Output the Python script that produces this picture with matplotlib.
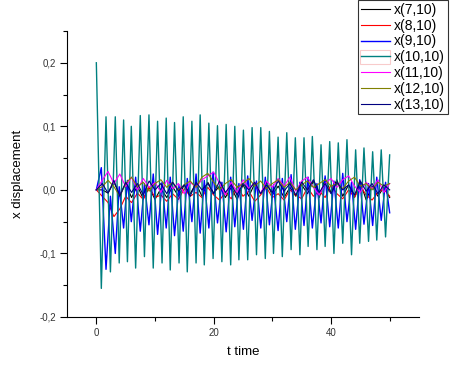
import matplotlib
matplotlib.use("Agg")
import matplotlib.pyplot as plt
from matplotlib.patches import Rectangle
from matplotlib.ticker import FuncFormatter, MultipleLocator

plt.rcParams['font.family'] = ['Liberation Sans', 'DejaVu Sans']

# x(10,10) and x(9,10): turning points
t_big = [0, 0.85, 1.65, 2.4, 3.23, 3.9, 4.65, 5.3, 5.96, 6.7,
         7.49, 8.2, 8.97, 9.7, 10.44, 11.2, 11.91, 12.6, 13.33, 14.1,
         14.81, 15.5, 16.29, 17.0, 17.7, 18.4, 19.18, 19.9, 20.65, 21.4,
         22.13, 22.9, 23.6, 24.3, 25.07, 25.8, 26.55, 27.3, 28.03, 28.8,
         29.5, 30.2, 30.98, 31.7, 32.46, 33.2, 33.92, 34.7, 35.4, 36.1,
         36.82, 37.6, 38.3, 39.0, 39.78, 40.5, 41.24, 42.0, 42.72, 43.5,
         44.2, 44.9, 45.62, 46.4, 47.1, 47.8, 48.56, 49.3, 50.0]
x10 = [0.2, -0.155, 0.115, -0.129, 0.115, -0.115, 0.11, -0.113, 0.1, -0.123,
       0.117, -0.105, 0.118, -0.123, 0.108, -0.115, 0.113, -0.126, 0.106, -0.115,
       0.115, -0.129, 0.108, -0.115, 0.118, -0.118, 0.105, -0.108, 0.101, -0.113,
       0.103, -0.118, 0.1, -0.11, 0.094, -0.11, 0.098, -0.102, 0.098, -0.108,
       0.092, -0.1, 0.083, -0.105, 0.09, -0.094, 0.082, -0.102, 0.082, -0.089,
       0.084, -0.094, 0.071, -0.089, 0.076, -0.1, 0.074, -0.084, 0.079, -0.102,
       0.063, -0.084, 0.066, -0.081, 0.06, -0.079, 0.063, -0.074, 0.055]
x9 = [0.0, 0.035, -0.125, -0.01, -0.1, 0.005, -0.06, 0.015, -0.05, 0.02,
      -0.065, 0.01, -0.055, 0.025, -0.07, 0.012, -0.06, 0.02, -0.072, 0.008,
      -0.065, 0.018, -0.05, 0.025, -0.068, 0.015, -0.06, 0.028, -0.052, 0.012,
      -0.066, 0.02, -0.058, 0.01, -0.062, 0.022, -0.048, 0.014, -0.06, 0.02,
      -0.055, 0.008, -0.064, 0.018, -0.05, 0.024, -0.062, 0.012, -0.056, 0.02,
      -0.06, 0.01, -0.052, 0.022, -0.058, 0.014, -0.06, 0.026, -0.05, 0.012,
      -0.062, 0.016, -0.054, 0.01, -0.056, 0.02, -0.048, 0.012, -0.036]

# the small ones, sampled every time unit
t_small = list(range(0, 51))
x7 = [0, 0, -0.005, 0.012, -0.008, 0.01, -0.012, 0.006, -0.014, 0.004,
      -0.015, 0.002, -0.012, 0.005, -0.01, 0.008, -0.006, 0.01, -0.01, 0.012,
      -0.005, 0.006, -0.012, 0.004, -0.015, 0.008, -0.01, 0.01, -0.006, 0.012,
      -0.008, 0.006, -0.012, 0.004, -0.01, 0.008, -0.006, 0.014, -0.012, 0.018,
      -0.004, 0.016, -0.01, 0.008, -0.012, 0.012, -0.016, 0.006, -0.01, 0.004,
      -0.012]
x8 = [0, -0.01, -0.02, -0.042, -0.03, -0.01, -0.02, -0.005, -0.015, 0.005,
      -0.012, -0.008, -0.018, -0.006, -0.015, 0.002, -0.01, -0.004, -0.012, 0.004,
      -0.008, -0.016, -0.004, -0.014, 0.006, -0.01, -0.002, -0.018, -0.008, 0.004,
      -0.012, -0.006, -0.016, 0.0, -0.008, -0.014, 0.004, -0.01, -0.002, -0.012,
      0.008, -0.006, -0.014, 0.0, -0.012, 0.006, -0.008, -0.016, -0.004, 0.002,
      -0.01]
x11 = [0, 0.015, 0.029, 0.01, 0.025, 0.005, 0.02, 0.0, 0.018, 0.004,
       0.012, -0.004, 0.015, 0.002, 0.01, -0.006, 0.012, 0.004, 0.016, 0.022,
       0.028, 0.01, -0.008, 0.012, -0.004, 0.016, 0.002, 0.012, -0.006, 0.014,
       0.004, 0.018, 0.006, 0.02, -0.002, 0.014, 0.02, 0.004, -0.008, 0.01,
       0.018, 0.004, 0.016, 0.022, 0.006, -0.004, 0.012, 0.002, 0.016, -0.004,
       0.01]
x12 = [0, 0.005, 0.015, 0.005, -0.01, 0.01, 0.02, 0.005, 0.012, -0.002,
       0.01, 0.016, 0.004, 0.012, 0.0, 0.008, 0.014, 0.004, 0.02, 0.026,
       0.012, 0.0, 0.01, 0.016, 0.004, 0.01, 0.018, 0.006, 0.014, 0.002,
       0.01, 0.016, 0.004, 0.012, 0.0, 0.008, 0.014, 0.004, 0.01, 0.016,
       0.006, 0.01, 0.002, 0.014, 0.02, 0.006, 0.01, 0.0, 0.012, 0.006,
       0.01]
x13 = [0, 0.01, -0.005, 0.015, -0.01, 0.012, -0.004, 0.01, -0.008, 0.014,
       0.0, 0.01, -0.006, 0.012, -0.002, 0.008, -0.01, 0.012, 0.0, 0.01,
       -0.006, 0.014, -0.004, 0.008, -0.008, 0.01, 0.0, 0.012, -0.006, 0.008,
       -0.004, 0.014, -0.002, 0.01, -0.008, 0.012, 0.0, 0.016, -0.004, 0.01,
       -0.006, 0.012, 0.0, 0.008, -0.008, 0.014, -0.002, 0.01, -0.006, 0.008,
       0.0]

fig = plt.figure(figsize=(4.73, 3.72), dpi=100)
ax = fig.add_axes([67 / 473, 55 / 372, 352 / 473, 286 / 372])

lw = 0.8
ax.plot(t_small, x7, color='#000000', lw=lw, label='x(7,10)')
ax.plot(t_small, x8, color='#FF0000', lw=lw, label='x(8,10)')
ax.plot(t_big, x9, color='#0000FF', lw=1.0, label='x(9,10)')
ax.plot(t_big, x10, color='#008080', lw=1.0, label='x(10,10)')
ax.plot(t_small, x11, color='#FF00FF', lw=lw, label='x(11,10)')
ax.plot(t_small, x12, color='#808000', lw=lw, label='x(12,10)')
ax.plot(t_small, x13, color='#000080', lw=lw, label='x(13,10)')

ax.set_xlim(-5, 55)
ax.set_ylim(-0.2, 0.25)
ax.spines['top'].set_visible(False)
ax.spines['right'].set_visible(False)
ax.xaxis.set_major_locator(MultipleLocator(20))
ax.xaxis.set_minor_locator(MultipleLocator(10))
ax.yaxis.set_major_locator(MultipleLocator(0.1))
ax.yaxis.set_minor_locator(MultipleLocator(0.05))
ax.yaxis.set_major_formatter(FuncFormatter(lambda v, p: f'{v:.1f}'.replace('.', ',').replace('-0,0', '0,0')))
ax.tick_params(which='major', direction='out', length=5, width=0.8, labelsize=7, pad=3)
ax.tick_params(which='minor', direction='out', length=3, width=0.8)
for lbl in ax.get_xticklabels() + ax.get_yticklabels():
    lbl.set_color('#333333')

ax.set_xlabel('t time', fontsize=9.5, labelpad=6)
ax.set_ylabel('x displacement', fontsize=9.5, labelpad=11)

leg = fig.legend(loc='upper left', bbox_to_anchor=(358 / 473, 1.0), fontsize=10,
                 frameon=True, fancybox=False, edgecolor='black',
                 handlelength=2.1, handletextpad=0.3, labelspacing=0.13,
                 borderpad=0.2, borderaxespad=0)
leg.get_frame().set_linewidth(0.8)

# red selection box round the x(10,10) entry
fig.patches.append(Rectangle((359.5 / 473, (372 - 64) / 372), 30 / 473, 14 / 372,
                             transform=fig.transFigure, fill=False,
                             edgecolor='#DD0000', lw=0.8))

plt.savefig('out.png', dpi=100)
